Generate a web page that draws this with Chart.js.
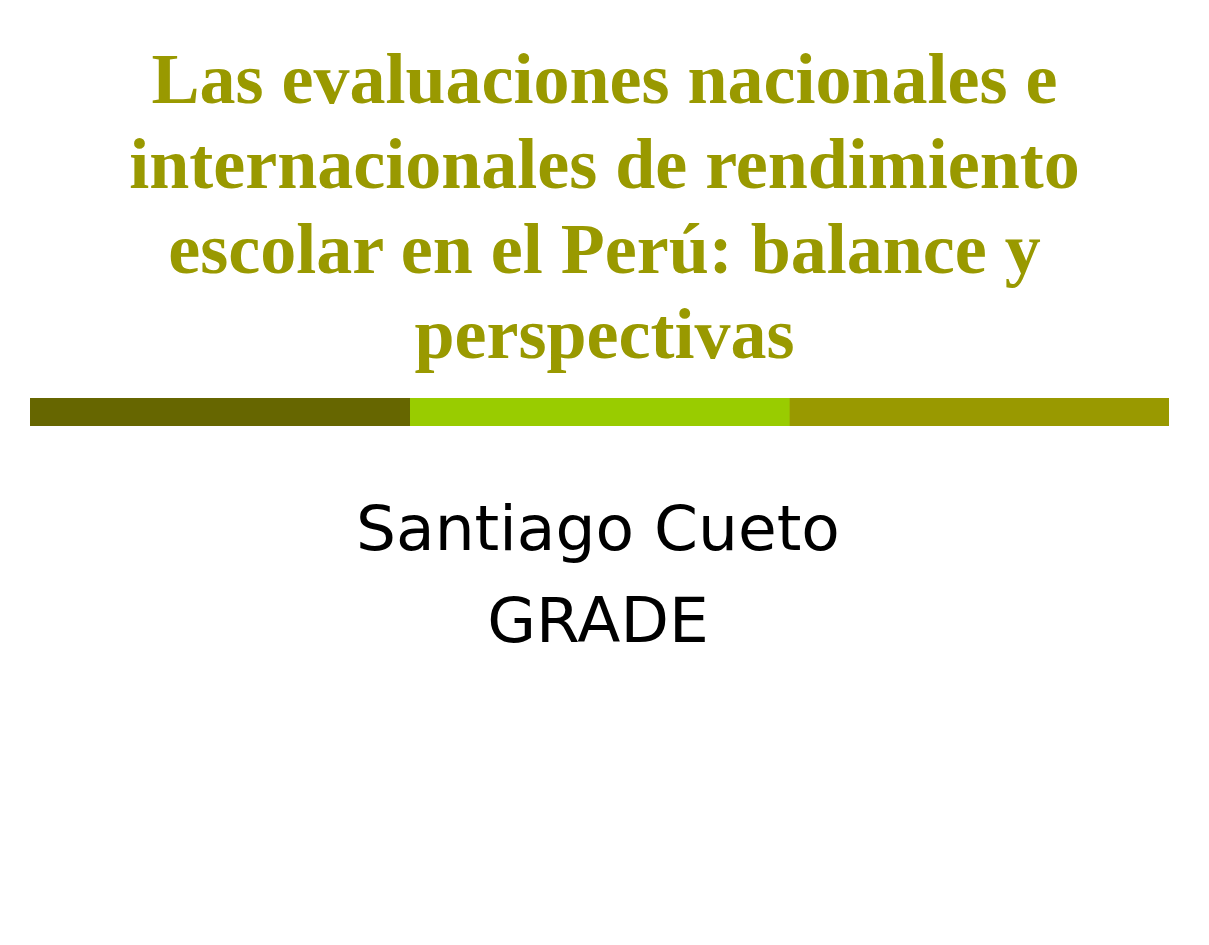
<!DOCTYPE html>
<html>
<head>
<meta charset="utf-8">
<script src="https://cdn.jsdelivr.net/npm/chart.js@4.4.1/dist/chart.umd.min.js"></script>
<style>
  html, body { margin: 0; padding: 0; background: #ffffff; }
  body { width: 1209px; height: 945px; position: relative; overflow: hidden; }
  .title {
    position: absolute; left: 0; width: 1209px; text-align: center;
    font-family: "Liberation Serif", "DejaVu Serif", serif; font-weight: bold;
    font-size: 72px; line-height: 85px; color: #999900; white-space: nowrap;
  }
  .sub {
    position: absolute; left: 0; width: 1196px; text-align: center;
    font-family: "DejaVu Sans", Verdana, sans-serif;
    font-size: 63px; line-height: 92px; color: #000000; white-space: nowrap;
  }
  #barWrap { position: absolute; left: 30px; top: 398px; width: 1139px; height: 28px; }
</style>
</head>
<body>
<div class="title" style="top:37px">Las evaluaciones nacionales e<br>internacionales de rendimiento<br>escolar en el Perú: balance y<br>perspectivas</div>
<div class="sub" style="top:483px">Santiago Cueto<br>GRADE</div>
<div id="barWrap"><canvas id="c"></canvas></div>
<script>
const categories = ["banda"];
const segmentNames = ["Segmento 1", "Segmento 2", "Segmento 3"];
const segmentValues = [1, 1, 1];
const segmentColors = ["#666600", "#99CC00", "#999900"];

const datasets = segmentNames.map((name, i) => ({
  label: name,
  data: [segmentValues[i]],
  backgroundColor: segmentColors[i],
  borderWidth: 0,
  barPercentage: 1,
  categoryPercentage: 1
}));

new Chart(document.getElementById('c'), {
  type: 'bar',
  data: { labels: categories, datasets: datasets },
  options: {
    indexAxis: 'y',
    responsive: true,
    maintainAspectRatio: false,
    animation: false,
    layout: { padding: 0 },
    scales: {
      x: { display: false, stacked: true, min: 0, max: segmentValues.reduce((a, b) => a + b, 0) },
      y: { display: false, stacked: true }
    },
    plugins: { legend: { display: false }, tooltip: { enabled: false } }
  }
});
</script>
</body>
</html>
